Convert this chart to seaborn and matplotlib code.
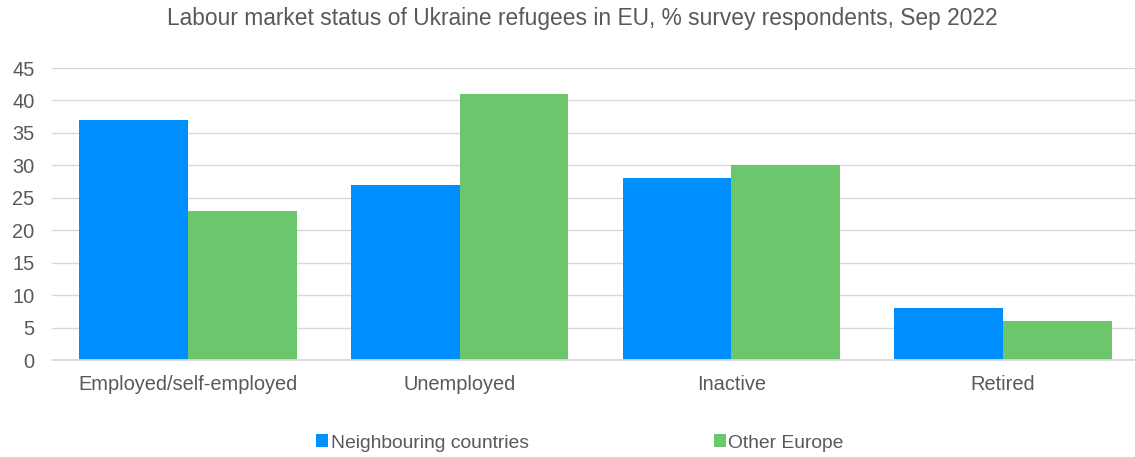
import matplotlib
matplotlib.use("Agg")
import matplotlib.pyplot as plt
import seaborn as sns
import pandas as pd
from matplotlib.patches import Patch

categories = ["Employed/self-employed", "Unemployed", "Inactive", "Retired"]
series_names = ["Neighbouring countries", "Other Europe"]
neighbouring = [37, 27, 28, 8]
other_europe = [23, 41, 30, 6]
yticks = [0, 5, 10, 15, 20, 25, 30, 35, 40, 45]

colors = ["#008FFF", "#6CC66C"]
text_color = "#595959"

df = pd.DataFrame({
    "category": categories * 2,
    "series": [series_names[0]] * 4 + [series_names[1]] * 4,
    "value": neighbouring + other_europe,
})

sns.set_theme(style="white")
plt.rcParams["font.family"] = ["Liberation Sans", "DejaVu Sans"]

fig = plt.figure(figsize=(11.35, 4.57), dpi=100)
ax = fig.add_axes([52 / 1135, 1 - 360 / 457, (1139 - 52) / 1135, (360 - 68) / 457])

sns.barplot(data=df, x="category", y="value", hue="series", order=categories,
            hue_order=series_names, palette=colors, width=0.8, saturation=1,
            ax=ax, legend=False, linewidth=0)

ax.set_ylim(0, 45)
ax.set_yticks(yticks)
ax.set_xlim(-0.5, 3.5)
ax.yaxis.grid(True, color="#D9D9D9", linewidth=1)
ax.set_axisbelow(True)
for s in ["top", "right", "left"]:
    ax.spines[s].set_visible(False)
ax.spines["bottom"].set_color("#D9D9D9")
ax.set_xlabel("")
ax.set_ylabel("")
ax.tick_params(axis="both", length=0, labelsize=14.4, colors=text_color)
ax.tick_params(axis="x", pad=10.5)
ax.tick_params(axis="y", pad=12.5)

fig.text(582 / 1135, 1 - 19 / 457, "Labour market status of Ukraine refugees in EU, % survey respondents, Sep 2022",
         ha="center", va="center", fontsize=16.35, color=text_color)

handles = [Patch(facecolor=c, edgecolor="none") for c in colors]
fig.legend(handles, series_names, loc="center", bbox_to_anchor=(580 / 1135, 1 - 443 / 457),
           ncol=2, frameon=False, fontsize=13.85, labelcolor=text_color,
           handlelength=0.62, handleheight=0.62, handletextpad=0.15, columnspacing=9.6)

fig.savefig("out.png", dpi=100)
